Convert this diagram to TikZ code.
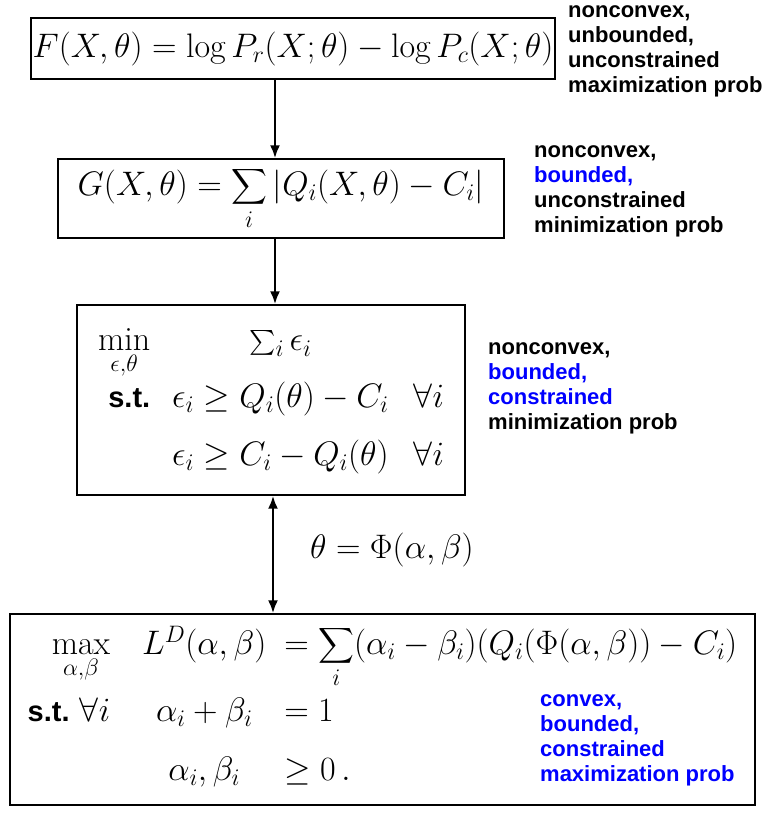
\documentclass[tikz,border=0pt]{standalone}
\usepackage{fix-cm}
\usepackage{amsmath}
\usepackage{fontspec}
\newfontfamily\armfont{Liberation Sans}
\usetikzlibrary{arrows.meta}
\tikzset{
  probbox/.style={draw, line width=1.3pt, inner sep=0pt, font=\fontsize{34}{41}\selectfont},
  note/.style={anchor=north west, align=left, inner sep=0pt, font=\armfont\bfseries\fontsize{22}{25}\selectfont},
  arr/.style={line width=2.5pt, -{Latex[length=13pt,width=10pt]}},
  dblarr/.style={line width=2.5pt, {Latex[length=13pt,width=10pt]}-{Latex[length=13pt,width=10pt]}},
}
\newcommand{\stlabel}{\text{\armfont\bfseries\fontsize{29}{32}\selectfont s.t.}}
\begin{document}
\begin{tikzpicture}[x=1pt,y=-1pt]
  \useasboundingbox (0,0) rectangle (770,815);

  % primal problem
  \node[probbox, minimum width=524pt, minimum height=61pt] (boxF) at (293,48.5)
    {$F(X,\theta)=\log P_r(X;\theta)-\log P_c(X;\theta)$};
  \node[note] (noteF) at (568,5) {nonconvex,\\unbounded,\\unconstrained\\maximization prob};

  % absolute deviation
  \node[probbox, minimum width=446pt, minimum height=79pt] (boxG) at (281,198.5)
    {$\displaystyle G(X,\theta)=\sum_i|Q_i(X,\theta)-C_i|$\hspace{30pt}};
  \node[note] (noteG) at (534,145) {nonconvex,\\\textcolor{blue}{bounded,}\\unconstrained\\minimization prob};

  % slack formulation
  \node[probbox, minimum width=388pt, minimum height=190pt] (boxE) at (271,400)
    {$\begin{array}{@{}r@{\hspace{22pt}}c@{\hspace{25pt}}l@{}}
      \min\limits_{\epsilon,\theta} & \sum_i\epsilon_i & \\[14pt]
      \stlabel & \epsilon_i\geq Q_i(\theta)-C_i & \forall i\\[17pt]
       & \epsilon_i\geq C_i-Q_i(\theta) & \forall i
    \end{array}$\hspace{4pt}};
  \node[note] (noteE) at (488,342) {nonconvex,\\\textcolor{blue}{bounded,}\\\textcolor{blue}{constrained}\\minimization prob};

  % dual problem
  \node[probbox, minimum width=745pt, minimum height=191pt] (boxD) at (382.5,709.5)
    {$\begin{array}{@{}r@{\hspace{32pt}}c@{\hspace{18pt}}l@{}}
      \max\limits_{\alpha,\beta} & L^D(\alpha,\beta) & \displaystyle =\sum_i(\alpha_i-\beta_i)(Q_i(\Phi(\alpha,\beta))-C_i)\\[26pt]
      \stlabel\ \forall i & \alpha_i+\beta_i & =1\\[18pt]
       & \alpha_i,\beta_i & \geq 0\,.
    \end{array}$};
  \node[note, blue] (noteD) at (540,694) {convex,\\bounded,\\constrained\\maximization prob};

  % arrows
  \coordinate (axA) at (275,0);
  \coordinate (axB) at (273,0);
  \draw[arr] (boxF.south -| axA) -- (boxG.north -| axA);
  \draw[arr] (boxG.south -| axA) -- (boxE.north -| axA);
  \draw[dblarr] (boxE.south -| axB) -- (boxD.north -| axB);
  \node[font=\fontsize{34}{41}\selectfont] (phi) at (392,550) {$\theta=\Phi(\alpha,\beta)$};
\end{tikzpicture}
\end{document}
